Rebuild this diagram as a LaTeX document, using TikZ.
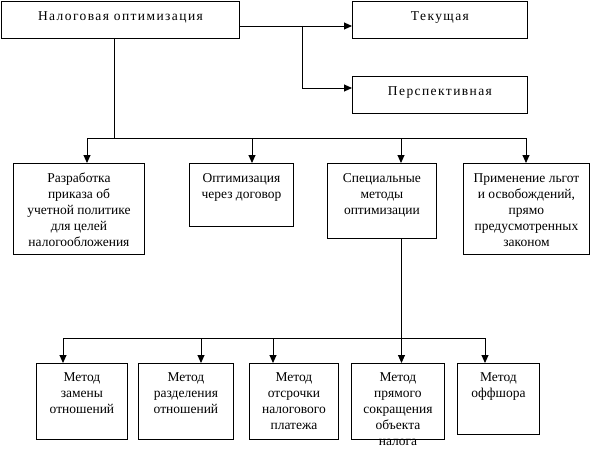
\documentclass[tikz,border=0pt]{standalone}
\usepackage{fontspec}
\setmainfont{Liberation Serif}
\newfontfamily\spacedfont{Liberation Serif}[LetterSpace=10.5]
\usetikzlibrary{arrows.meta}
\begin{document}
\begin{tikzpicture}[x=1pt,y=-1pt,
  ln/.style={line width=0.9pt},
  arr/.style={ln,-{Triangle[length=8pt,width=7pt]}},
  box/.style={draw,line width=0.9pt,inner sep=0pt,anchor=north west},
  txt/.style={anchor=north,inner sep=0pt,align=center,font=\fontsize{13.5}{16}\selectfont},
  toptxt/.style={txt,font=\spacedfont\fontsize{13.5}{16}\selectfont}]
\useasboundingbox (0,0) rectangle (596,452);
% top level
\node[box,minimum width=238pt,minimum height=37pt] (top) at (1,1) {};
\node[box,minimum width=175pt,minimum height=37pt] (cur) at (352,1) {};
\node[box,minimum width=175pt,minimum height=37pt] (persp) at (352,76) {};
\node[toptxt] (topT) at ([yshift=-10pt]top.north) {Налоговая оптимизация};
\node[toptxt] (curT) at ([yshift=-10pt]cur.north) {Текущая};
\node[toptxt] (perspT) at ([yshift=-10pt]persp.north) {Перспективная};
% middle row
\node[box,minimum width=131pt,minimum height=91pt] (m1) at (13,163) {};
\node[box,minimum width=104pt,minimum height=63pt] (m2) at (189,163) {};
\node[box,minimum width=109pt,minimum height=75pt] (m3) at (327,163) {};
\node[box,minimum width=126pt,minimum height=91pt] (m4) at (463,163) {};
\node[txt] (m1T) at ([yshift=-10pt]m1.north) {Разработка\\приказа об\\учетной политике\\для целей\\налогообложения};
\node[txt] (m2T) at ([yshift=-10pt]m2.north) {Оптимизация\\через договор};
\node[txt] (m3T) at ([yshift=-10pt]m3.north) {Специальные\\методы\\оптимизации};
\node[txt] (m4T) at ([yshift=-10pt]m4.north) {Применение льгот\\и освобождений,\\прямо\\предусмотренных\\законом};
% bottom row
\node[box,minimum width=91pt,minimum height=76pt] (b1) at (36,363) {};
\node[box,minimum width=95pt,minimum height=76pt] (b2) at (138,363) {};
\node[box,minimum width=89pt,minimum height=76pt] (b3) at (249,363) {};
\node[box,minimum width=93pt,minimum height=76pt] (b4) at (351,363) {};
\node[box,minimum width=82pt,minimum height=71pt] (b5) at (457,363) {};
\node[txt] (b1T) at ([yshift=-9pt]b1.north) {Метод\\замены\\отношений};
\node[txt] (b2T) at ([yshift=-9pt]b2.north) {Метод\\разделения\\отношений};
\node[txt] (b3T) at ([yshift=-9pt]b3.north) {Метод\\отсрочки\\налогового\\платежа};
\node[txt] (b4T) at ([yshift=-9pt]b4.north) {Метод\\прямого\\сокращения\\объекта\\налога};
\node[txt] (b5T) at ([yshift=-9pt]b5.north) {Метод\\оффшора};
% connectors top
\coordinate (j1) at (302,26);
\coordinate (j2) at (302,88);
\draw[ln] (top.east |- j1) -- (j1);
\draw[arr] (j1) -- (cur.west |- j1);
\draw[arr] (j1) -- (j2) -- (persp.west |- j2);
% bus 1
\coordinate (s1) at (114,138);
\coordinate (t1) at (87,138);
\coordinate (t2) at (252,138);
\coordinate (t3) at (401,138);
\coordinate (t4) at (526,138);
\draw[ln] (top.south -| s1) -- (s1);
\draw[ln] (t1) -- (t4);
\draw[arr] (t1) -- (t1 |- m1.north);
\draw[arr] (t2) -- (t2 |- m2.north);
\draw[arr] (t3) -- (t3 |- m3.north);
\draw[arr] (t4) -- (t4 |- m4.north);
% bus 2
\coordinate (s2) at (401.5,338);
\coordinate (u1) at (63,338);
\coordinate (u2) at (201,338);
\coordinate (u3) at (273,338);
\coordinate (u4) at (401.5,338);
\coordinate (u5) at (485,338);
\draw[ln] (m3.south -| s2) -- (s2);
\draw[ln] (u1) -- (u5);
\draw[arr] (u1) -- (u1 |- b1.north);
\draw[arr] (u2) -- (u2 |- b2.north);
\draw[arr] (u3) -- (u3 |- b3.north);
\draw[arr] (u4) -- (u4 |- b4.north);
\draw[arr] (u5) -- (u5 |- b5.north);
\end{tikzpicture}
\end{document}
